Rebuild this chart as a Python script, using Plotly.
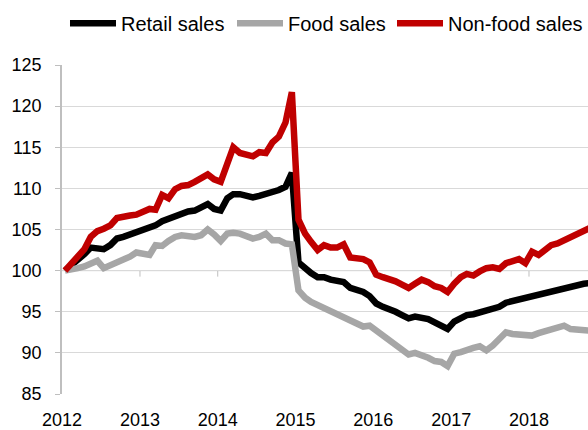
import plotly.graph_objects as go

# ---- data (monthly index, Jan 2012 = 100) ----
n_months = 82
months = [f"{2012 + i // 12}-{i % 12 + 1:02d}-15" for i in range(n_months)]

retail_sales = [
    100.0, 100.6, 101.3, 102.0, 102.8, 102.7, 102.6, 103.1, 103.9, 104.1, 104.4, 104.7,
    105.0, 105.2, 105.5, 106.0, 106.3, 106.8, 107.1, 107.2, 107.3, 107.6, 108.1, 107.5,
    107.3, 108.8, 109.3, 109.3, 109.1, 108.9, 109.1, 109.3, 109.5, 109.8, 110.2, 111.9,
    101.0, 100.2, 99.7, 99.2, 99.2, 98.9, 98.7, 98.6, 97.9, 97.7, 97.4, 96.9,
    96.0, 95.6, 95.4, 95.0, 94.6, 94.2, 94.4, 94.3, 94.1, 93.7, 93.4, 92.9,
    93.8, 94.3, 94.6, 94.7, 94.9, 95.1, 95.3, 95.6, 96.1, 96.3, 96.5, 96.6,
    96.8, 97.0, 97.1, 97.5, 97.7, 97.9, 98.1, 98.3, 98.4, 98.5,
]
food_sales = [
    100.0, 100.1, 100.3, 100.5, 100.9, 101.2, 100.3, 100.6, 100.9, 101.3, 101.7, 102.2,
    102.1, 101.9, 103.1, 103.0, 103.6, 104.1, 104.3, 104.2, 104.1, 104.3, 105.0, 104.4,
    103.6, 104.5, 104.6, 104.5, 104.3, 103.9, 104.1, 104.5, 103.7, 103.7, 103.3, 103.2,
    97.6, 96.7, 96.2, 95.8, 95.4, 95.2, 94.8, 94.4, 94.0, 93.6, 93.2, 93.3,
    92.7, 92.1, 91.4, 90.9, 90.2, 89.8, 90.0, 89.8, 89.4, 89.0, 88.9, 88.4,
    89.9, 90.1, 90.4, 90.6, 90.8, 90.3, 90.9, 91.6, 92.5, 92.3, 92.2, 92.2,
    92.1, 92.4, 92.6, 92.7, 92.9, 93.3, 92.9, 92.8, 92.8, 92.7,
]
non_food_sales = [
    100.0, 100.8, 101.7, 102.6, 104.1, 104.8, 105.1, 105.5, 106.4, 106.6, 106.7, 106.8,
    107.1, 107.5, 107.4, 109.2, 108.8, 109.9, 110.3, 110.4, 110.8, 111.2, 111.7, 111.1,
    110.8, 113.0, 115.0, 114.3, 114.1, 113.9, 114.4, 114.3, 115.6, 116.3, 118.0, 121.7,
    106.2, 104.5, 103.5, 102.5, 103.1, 102.8, 102.8, 103.2, 101.6, 101.5, 101.4, 101.0,
    99.5, 99.2, 99.0, 98.7, 98.3, 97.9, 98.4, 98.9, 98.6, 98.1, 97.9, 97.4,
    98.4, 99.2, 99.6, 99.4, 99.9, 100.3, 100.4, 100.2, 100.9, 101.2, 101.4, 100.9,
    102.3, 101.9, 102.6, 103.1, 103.3, 103.7, 104.2, 104.6, 105.0, 105.2,
]

series_names = ["Retail sales", "Food sales", "Non-food sales"]
series_values = [retail_sales, food_sales, non_food_sales]
series_colors = ["#000000", "#a6a6a6", "#c00000"]

year_ticks = [f"{y}-01-01" for y in range(2012, 2019)]
year_labels = [str(y) for y in range(2012, 2019)]
y_ticks = list(range(85, 126, 5))

FONT = "Liberation Sans, Arial, sans-serif"

# legend slot for each series and its horizontal position (paper fraction)
legend_ids = ["legend", "legend2", "legend3"]
legend_x = [0.0057, 0.3232, 0.6274]

fig = go.Figure()
for name, vals, col, lid in zip(series_names, series_values, series_colors, legend_ids):
    fig.add_trace(go.Scatter(
        x=months, y=vals, name=name, mode="lines", legend=lid,
        line=dict(color=col, width=6.5),
    ))

# horizontal axis line crossing at 100 and its tick marks
fig.add_shape(type="line", xref="paper", yref="y", x0=0, x1=1, y0=100, y1=100,
              line=dict(color="#bfbfbf", width=1), layer="below")
for t in year_ticks[1:]:
    fig.add_shape(type="line", xref="x", yref="y", ysizemode="pixel", yanchor=100,
                  x0=t, x1=t, y0=0, y1=-6,
                  line=dict(color="#bfbfbf", width=1), layer="below")

legend_style = dict(orientation="h", xanchor="left", y=1.127, yanchor="middle",
                    font=dict(size=20), bgcolor="rgba(0,0,0,0)", itemwidth=46)

fig.update_layout(
    width=588, height=430,
    margin=dict(l=62, r=0, t=65, b=34),
    paper_bgcolor="white", plot_bgcolor="white",
    font=dict(family=FONT, size=18, color="#000000"),
    showlegend=True,
    legend=dict(x=legend_x[0], **legend_style),
    legend2=dict(x=legend_x[1], **legend_style),
    legend3=dict(x=legend_x[2], **legend_style),
    xaxis=dict(
        type="date", range=["2012-01-01", "2018-10-05"],
        tickmode="array", tickvals=year_ticks, ticktext=year_labels,
        showgrid=False, zeroline=False, showline=False, ticks="",
        ticklabelstandoff=13, tickfont=dict(size=18),
    ),
    yaxis=dict(
        range=[85, 125], tickmode="array", tickvals=y_ticks,
        showgrid=True, gridcolor="#d9d9d9", gridwidth=1,
        zeroline=False, showline=True, linecolor="#bfbfbf", linewidth=1.5,
        ticks="outside", ticklen=5, tickcolor="#bfbfbf",
        ticklabelstandoff=10, tickfont=dict(size=18),
    ),
)

fig.write_html("out.html", config={"displayModeBar": False},
               post_script="document.body.style.margin='0';")
